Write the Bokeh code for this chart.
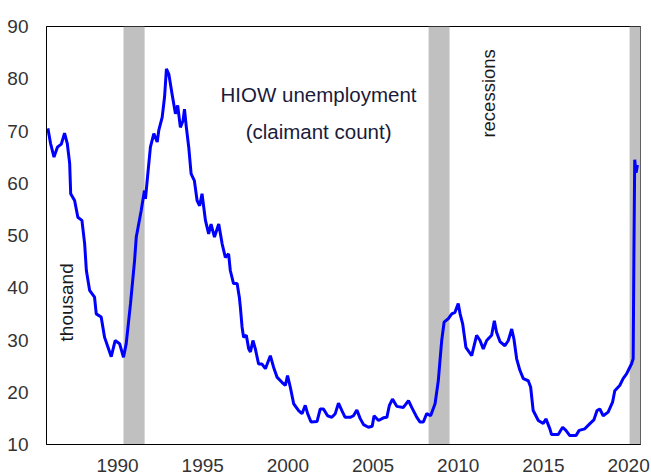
from bokeh.plotting import figure
from bokeh.models import BoxAnnotation, Label, FixedTicker, Range1d
from bokeh.embed import file_html
from bokeh.resources import INLINE

# ---- data ----
years = [1985.91, 1986.07, 1986.27, 1986.47, 1986.70, 1986.89, 1987.05, 1987.19, 1987.25, 1987.48,
         1987.67, 1987.91, 1988.07, 1988.17, 1988.36, 1988.65, 1988.75, 1989.04, 1989.24, 1989.45,
         1989.63, 1989.86, 1990.12, 1990.35, 1990.51, 1990.76, 1991.00, 1991.10, 1991.39, 1991.58,
         1991.64, 1991.74, 1991.93, 1992.13, 1992.33, 1992.42, 1992.62, 1992.76, 1992.87, 1993.01,
         1993.20, 1993.40, 1993.53, 1993.69, 1993.85, 1993.93, 1994.04, 1994.18, 1994.32, 1994.51,
         1994.67, 1994.82, 1994.96, 1995.16, 1995.35, 1995.49, 1995.69, 1995.94, 1996.14, 1996.33,
         1996.52, 1996.62, 1996.81, 1997.02, 1997.15, 1997.21, 1997.31, 1997.40, 1997.56, 1997.70,
         1997.80, 1997.95, 1998.09, 1998.28, 1998.48, 1998.68, 1998.97, 1999.16, 1999.36, 1999.65,
         1999.85, 1999.98, 2000.14, 2000.34, 2000.63, 2000.83, 2001.02, 2001.16, 2001.36, 2001.71,
         2001.90, 2002.09, 2002.33, 2002.58, 2002.78, 2002.97, 2003.17, 2003.36, 2003.66, 2003.85,
         2004.05, 2004.24, 2004.44, 2004.73, 2004.95, 2005.06, 2005.32, 2005.61, 2005.81, 2005.96,
         2006.14, 2006.39, 2006.78, 2007.08, 2007.27, 2007.57, 2007.76, 2007.95, 2008.15, 2008.38,
         2008.64, 2008.83, 2008.93, 2009.03, 2009.17, 2009.42, 2009.62, 2009.81, 2010.00, 2010.11,
         2010.26, 2010.45, 2010.79, 2011.08, 2011.28, 2011.47, 2011.67, 2011.96, 2012.12, 2012.25,
         2012.45, 2012.74, 2012.94, 2013.14, 2013.27, 2013.43, 2013.62, 2013.82, 2014.11, 2014.25,
         2014.40, 2014.70, 2014.99, 2015.15, 2015.38, 2015.48, 2015.87, 2016.13, 2016.32, 2016.55,
         2016.91, 2017.10, 2017.43, 2017.73, 2017.96, 2018.15, 2018.31, 2018.51, 2018.80, 2019.06,
         2019.19, 2019.48, 2019.68, 2019.88, 2020.03, 2020.17, 2020.27, 2020.31, 2020.36, 2020.44,
         2020.52]
claimants = [70.5, 67.6, 65.0, 66.9, 67.5, 69.6, 67.6, 63.8, 58.0, 56.7,
             53.5, 52.9, 48.4, 43.3, 39.5, 38.2, 35.0, 34.4, 30.5, 28.5,
             26.8, 29.9, 29.3, 26.7, 29.3, 36.9, 45.2, 49.7, 54.8, 58.6,
             57.0, 60.5, 66.9, 69.5, 67.9, 70.1, 72.6, 76.5, 81.9, 80.9,
             77.1, 73.3, 74.9, 70.7, 72.0, 74.2, 70.7, 66.9, 61.8, 60.5,
             56.7, 55.7, 58.0, 52.9, 50.3, 52.2, 49.7, 52.2, 48.4, 45.8,
             46.5, 43.3, 40.8, 40.8, 38.2, 36.3, 32.5, 30.5, 30.9, 28.3,
             27.7, 29.9, 28.3, 25.4, 25.4, 24.5, 27.0, 24.8, 22.9, 21.9,
             21.3, 23.2, 21.0, 17.8, 16.5, 15.9, 17.5, 15.9, 14.3, 14.4,
             16.8, 16.8, 15.5, 15.2, 15.9, 17.9, 16.5, 15.2, 15.2, 15.5,
             16.6, 15.0, 13.8, 13.3, 13.5, 15.5, 14.6, 15.1, 15.2, 17.5,
             18.7, 17.3, 17.1, 18.4, 17.1, 15.2, 14.3, 14.3, 15.9, 15.5,
             17.8, 22.2, 26.1, 29.9, 33.4, 34.1, 35.0, 35.3, 37.0, 35.0,
             33.1, 28.6, 27.0, 30.9, 29.9, 28.3, 29.9, 30.9, 33.7, 31.5,
             29.7, 28.9, 29.9, 32.1, 30.2, 26.4, 24.2, 22.6, 22.2, 21.0,
             16.5, 14.6, 14.0, 14.9, 13.0, 11.9, 11.9, 13.3, 12.7, 11.7,
             11.7, 12.7, 13.0, 14.0, 14.7, 16.5, 16.8, 15.5, 16.2, 18.1,
             20.3, 21.3, 22.6, 23.5, 24.5, 25.4, 26.4, 45.0, 64.5, 62.0,
             63.5]

recession_start = [1990.35, 2008.26, 2020.06]
recession_end = [1991.59, 2009.49, 2020.75]

x_ticks = [1990, 1995, 2000, 2005, 2010, 2015, 2020]
y_ticks = [10, 20, 30, 40, 50, 60, 70, 80, 90]

FONT = "Liberation Sans"

p = figure(width=651, height=475, output_backend="svg", toolbar_location=None,
           x_range=Range1d(1985.83, 2020.70), y_range=Range1d(10, 90),
           min_border_left=46, min_border_right=11, min_border_top=26, min_border_bottom=31)

p.background_fill_color = "white"
p.border_fill_color = "white"
p.outline_line_color = "black"
p.outline_line_width = 1
p.xgrid.visible = False
p.ygrid.visible = False

for s, e in zip(recession_start, recession_end):
    p.add_layout(BoxAnnotation(left=s, right=e, fill_color="#c0c0c0", fill_alpha=1.0,
                               line_color=None, level="underlay"))

p.line(years, claimants, line_color="#0000ff", line_width=3)

for ax in (p.xaxis[0], p.yaxis[0]):
    ax.axis_line_color = "black"
    ax.major_tick_line_color = None
    ax.minor_tick_line_color = None
    ax.major_label_text_font = FONT
    ax.major_label_text_font_size = "19px"
    ax.major_label_text_color = "#333333"

p.xaxis[0].ticker = FixedTicker(ticks=x_ticks)
p.yaxis[0].ticker = FixedTicker(ticks=y_ticks)
p.xaxis[0].major_label_standoff = 8
p.yaxis[0].major_label_standoff = 12

p.add_layout(Label(x=2001.80, y=77.0, text="HIOW unemployment", text_align="center",
                   text_baseline="middle", text_font=FONT, text_font_size="20.5px",
                   text_color="#1a1a3a"))
p.add_layout(Label(x=2001.80, y=69.9, text="(claimant count)", text_align="center",
                   text_baseline="middle", text_font=FONT, text_font_size="20.5px",
                   text_color="#1a1a3a"))
p.add_layout(Label(x=1987.0, y=37.2, text="thousand", text_align="center",
                   text_baseline="middle", angle=1.5707963, text_font=FONT,
                   text_font_size="19px", text_color="#1a1a1a"))
p.add_layout(Label(x=2011.78, y=77.2, text="recessions", text_align="center",
                   text_baseline="middle", angle=1.5707963, text_font=FONT,
                   text_font_size="18.5px", text_color="#1a1a1a"))

open("out.html", "w").write(file_html(p, INLINE))
